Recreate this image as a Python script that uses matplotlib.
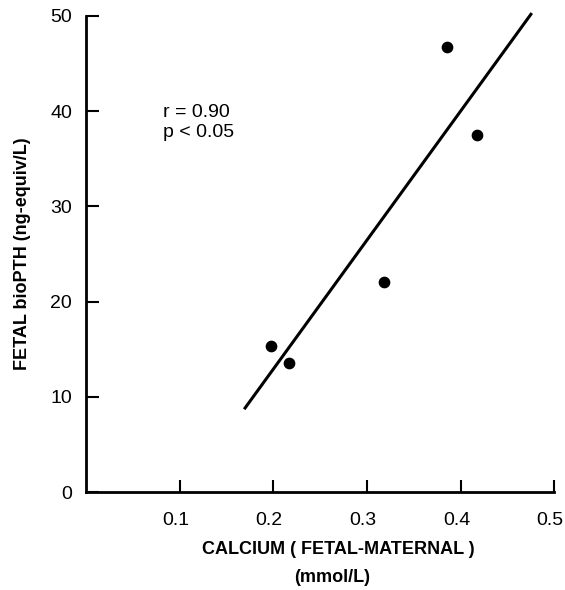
import matplotlib
matplotlib.use("Agg")
import matplotlib.pyplot as plt
import matplotlib.transforms as mtransforms
import numpy as np

# fetal-maternal calcium difference vs fetal bioPTH
calcium = [0.198, 0.217, 0.318, 0.386, 0.418]
biopth = [15.3, 13.6, 22.1, 46.7, 37.5]

# regression line end points
line_x = [0.169, 0.476]
line_y = [8.7, 50.3]

x_ticks = [0.1, 0.2, 0.3, 0.4, 0.5]
y_ticks = [0, 10, 20, 30, 40, 50]

plt.rcParams['font.family'] = ['Liberation Sans', 'DejaVu Sans']

fig = plt.figure(figsize=(5.65, 5.9), dpi=100)
ax = fig.add_axes([0.152, 0.166, 0.829, 0.807])

ax.plot(line_x, line_y, color='black', lw=2.2, clip_on=False, solid_capstyle='butt')
ax.scatter(calcium, biopth, s=55, color='black', zorder=3, clip_on=False)

ax.set_xlim(0, 0.5)
ax.set_ylim(0, 50)
ax.set_xticks(x_ticks)
ax.set_xticklabels(['0.1', '0.2', '0.3', '0.4', '0.5'])
ax.set_yticks(y_ticks)

for side in ['top', 'right']:
	ax.spines[side].set_visible(False)
for side in ['left', 'bottom']:
	ax.spines[side].set_linewidth(2)

ax.tick_params(axis='x', direction='in', length=9, width=1.5, pad=14, labelsize=14)
ax.tick_params(axis='y', direction='in', length=9, width=1.5, pad=10, labelsize=14)

# nudge x tick labels a little left so 0.5 stays inside the figure
shift = mtransforms.ScaledTranslation(-4 / 100, 0, fig.dpi_scale_trans)
for lab in ax.get_xticklabels():
	lab.set_transform(lab.get_transform() + shift)

ax.text(0.082, 38.8, 'r = 0.90\np < 0.05', fontsize=14, va='center', ha='left', linespacing=1.2)

# two-line x label placed in figure coords
fig.text(338 / 565, 1 - 549 / 590, 'CALCIUM ( FETAL-MATERNAL )', fontsize=13,
	fontweight='bold', ha='center', va='center')
fig.text(332 / 565, 1 - 577 / 590, '(mmol/L)', fontsize=13,
	fontweight='bold', ha='center', va='center')
ax.set_ylabel('FETAL bioPTH (ng-equiv/L)', fontsize=13, fontweight='bold', labelpad=14)

plt.savefig('out.png', dpi=100)
plt.close(fig)
